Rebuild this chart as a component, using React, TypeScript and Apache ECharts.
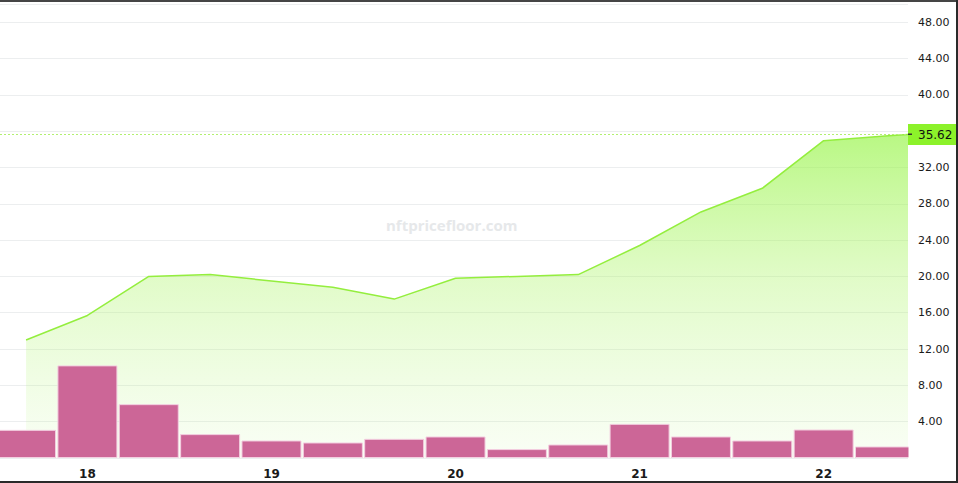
import React, { useEffect, useRef } from "react";
import * as echarts from "echarts";

// hours since the first 8h candle (17th 16:00)
const barHours = [0, 8, 16, 24, 32, 40, 48, 56, 64, 72, 80, 88, 96, 104, 112];
const volumes = [3.1, 10.2, 5.93, 2.63, 1.93, 1.71, 2.11, 2.37, 0.98, 1.49, 3.76, 2.37, 1.93, 3.14, 1.27];

const priceHours = [0, 8, 16, 24, 32, 40, 48, 56, 64, 72, 80, 88, 96, 104, 112, 115];
const prices = [13.0, 15.7, 20.0, 20.2, 19.5, 18.8, 17.5, 19.8, 20.0, 20.2, 23.4, 27.1, 29.7, 34.95, 35.45, 35.62];

const lastPrice = 35.62;

const dayStartHours = [8, 32, 56, 80, 104];
const dayLabels = ["18", "19", "20", "21", "22"];

const watermark = "nftpricefloor.com";

export default function App() {
  const ref = useRef<HTMLDivElement>(null);

  useEffect(() => {
    document.body.style.margin = "0";
    if (!ref.current) return;
    const chart = echarts.init(ref.current, null, { renderer: "svg" });

    const option = {
      animation: false,
      backgroundColor: "#ffffff",
      grid: { left: 0, right: 50, top: 4, bottom: 25, containLabel: false },
      xAxis: {
        type: "value",
        min: -3.4,
        max: 115,
        splitLine: { show: false },
        axisLine: { show: false },
        axisTick: { show: false },
        minorTick: { show: false },
        axisLabel: {
          customValues: dayStartHours,
          formatter: (v: number) => {
            const i = dayStartHours.indexOf(v);
            return i >= 0 ? dayLabels[i] : "";
          },
          color: "#1a1a1a",
          fontSize: 12,
          fontWeight: "bold",
          fontFamily: "DejaVu Sans",
          margin: 10,
        },
      },
      yAxis: {
        type: "value",
        position: "right",
        min: 0,
        max: 50,
        interval: 4,
        axisLine: { show: false },
        axisTick: { show: false },
        minorTick: { show: false },
        splitLine: { show: true, lineStyle: { color: "#eceeef", width: 1 } },
        axisLabel: {
          showMinLabel: false,
          showMaxLabel: false,
          margin: 10,
          color: "#1a1a1a",
          fontSize: 11,
          fontFamily: "DejaVu Sans",
          formatter: (v: number) => (v === 36 || v === 0 || v === 50 ? "" : v.toFixed(2)),
        },
      },
      graphic: [
        {
          type: "text",
          left: 454 - 68,
          top: 217,
          z: 0,
          style: {
            text: watermark,
            fill: "#e6e8ea",
            font: "bold 15px 'Open Sans'",
          },
        },
        // price-scale strip background (keeps the plot edge clean)
        { type: "rect", shape: { x: 908.5, y: 2, width: 8.5, height: 121 }, style: { fill: "#ffffff" }, z: 50 },
        { type: "rect", shape: { x: 908.5, y: 146, width: 8.5, height: 335 }, style: { fill: "#ffffff" }, z: 50 },
        { type: "rect", shape: { x: 908, y: 133.5, width: 4, height: 1.5 }, style: { fill: "#333333" }, z: 60 },
        { type: "rect", shape: { x: 0, y: 0, width: 958, height: 2 }, style: { fill: "#454545" }, z: 100 },
        { type: "rect", shape: { x: 956, y: 0, width: 2, height: 483 }, style: { fill: "#2a2a2a" }, z: 100 },
        { type: "rect", shape: { x: 0, y: 481, width: 958, height: 2 }, style: { fill: "#2a2a2a" }, z: 100 },
      ],
      series: [
        {
          type: "line",
          data: priceHours.map((h, i) => [h, prices[i]]),
          symbol: "none",
          lineStyle: { color: "#94ee3e", width: 1.5 },
          areaStyle: {
            color: new echarts.graphic.LinearGradient(0, 0, 0, 1, [
              { offset: 0, color: "rgba(150,244,70,0.95)" },
              { offset: 0.45, color: "rgba(170,245,100,0.5)" },
              { offset: 1, color: "rgba(190,245,140,0.12)" },
            ]),
          },
          z: 2,
          markLine: {
            silent: true,
            symbol: "none",
            lineStyle: { color: "#b2f070", type: [2, 2], width: 1 },
            label: {
              show: true,
              position: "end",
              distance: 0,
              formatter: () => lastPrice.toFixed(2),
              backgroundColor: "#8cf22a",
              color: "#111111",
              fontSize: 12,
              fontWeight: 500,
              fontFamily: "DejaVu Sans",
              padding: [5, 8, 4, 10],
            },
            data: [{ yAxis: lastPrice }],
          },
        },
        {
          type: "bar",
          clip: true,
          data: barHours.map((h, i) => [h, volumes[i]]),
          barWidth: 60,
          itemStyle: {
            color: "#cc6697",
            borderColor: "#f3cfe0",
            borderWidth: 1,
          },
          z: 3,
        },
      ],
    };

    chart.setOption(option as any);
    return () => chart.dispose();
  }, []);

  return <div ref={ref} style={{ width: 958, height: 483 }} />;
}
